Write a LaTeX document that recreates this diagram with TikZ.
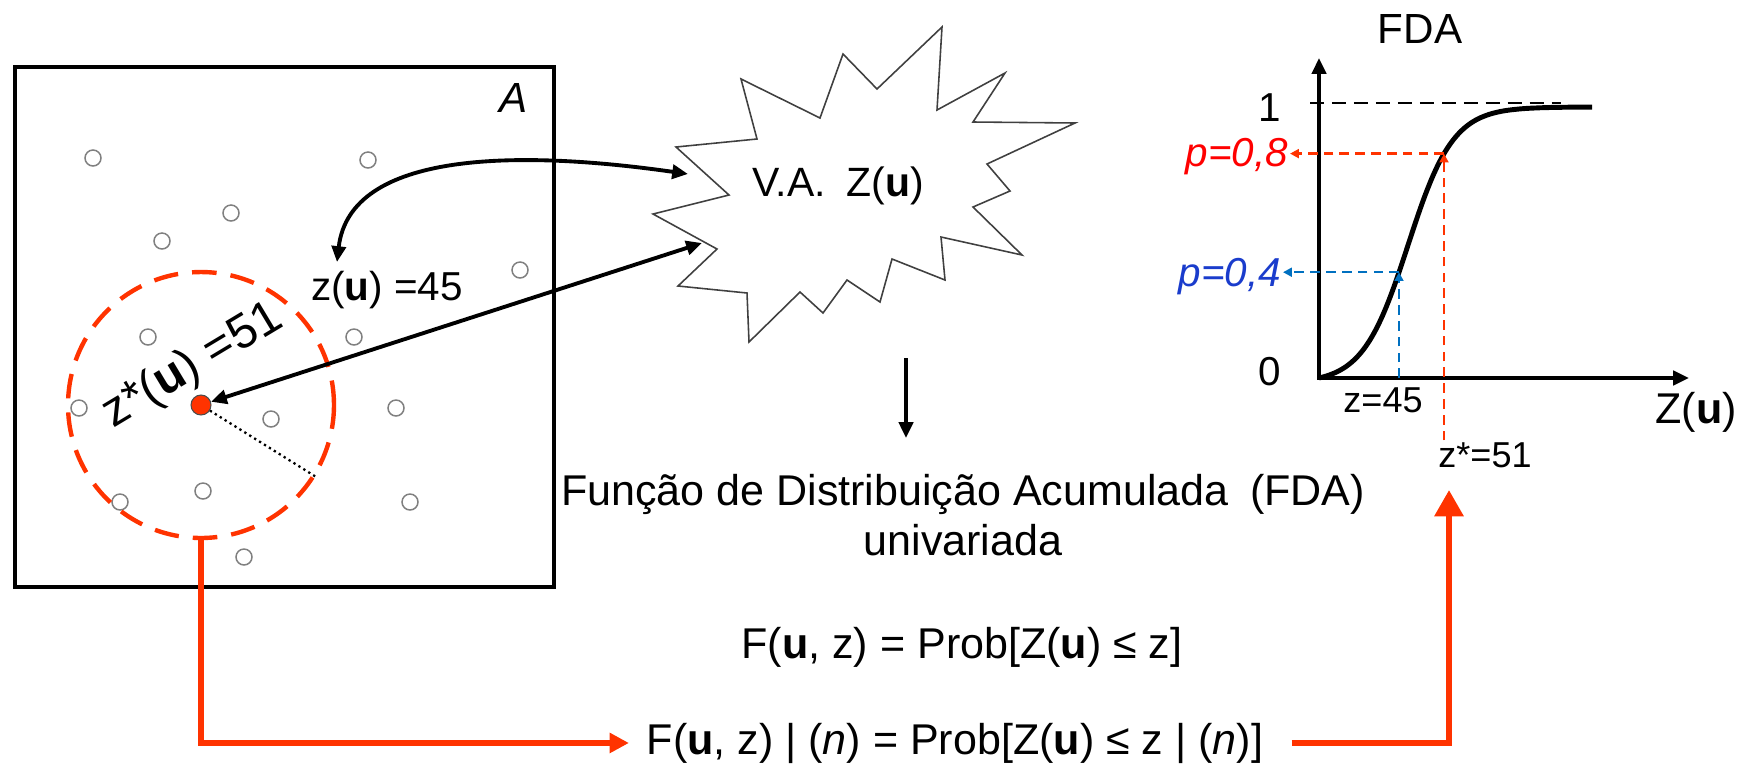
\documentclass[tikz,border=0pt]{standalone}
\usepackage{fontspec}
\setmainfont{Liberation Sans}
\usetikzlibrary{arrows.meta}
\definecolor{orred}{HTML}{FF3300}
\definecolor{dashblue}{HTML}{0070C0}
\definecolor{txtblue}{HTML}{1A3CCC}

\begin{document}
\begin{tikzpicture}[x=0.02cm, y=-0.02cm,
    txt/.style={inner sep=2pt, font=\fontsize{24.5}{29}\selectfont},
    lbl/.style={inner sep=1pt, font=\fontsize{23}{27}\selectfont},
    small/.style={inner sep=1pt, font=\fontsize{20.5}{24}\selectfont},
    sample/.style={circle, draw=black!50, line width=0.85pt, minimum size=0.32cm, inner sep=0pt},
    arrow/.style={{Triangle[length=9pt,width=8pt]}-{Triangle[length=9pt,width=8pt]}, line width=2.2pt},
    redline/.style={orred, line width=3.4pt},
    guide/.style={line width=1.3pt, dash pattern=on 5.5pt off 3.5pt, -{Triangle[length=5pt,width=5pt]}},
    axis/.style={line width=2.8pt, {Triangle[length=9pt,width=8pt]}-{Triangle[length=9pt,width=8pt]}}
]
    \useasboundingbox (0,0) rectangle (1750,765);

    % Area A with samples
    \node[draw, line width=2.3pt, minimum width=10.78cm, minimum height=10.4cm] (area) at (284.5,327) {};
    \node[txt, font=\fontsize{24}{28}\selectfont\itshape] (alabel) at (514,98) {A};
    \foreach \px/\py [count=\i] in {93/158, 368/160, 231/213, 162/241, 520/270, 148/337, 354/337,
        79/408, 271/419, 396/408, 120/502, 203/491, 410/502, 244/557}
        \node[sample] (s\i) at (\px,\py) {};

    % Neighbourhood and estimated point
    \node[circle, draw=orred, line width=2.5pt, dash pattern=on 14pt off 8pt,
        minimum size=5.32cm, inner sep=0pt] (nbhd) at (201,405) {};
    \node[circle, fill=orred, draw=black!70, line width=0.6pt, minimum size=0.4cm, inner sep=0pt] (zu) at (201,405) {};
    \draw[line width=1.3pt, dotted] (zu) -- (nbhd.-32);
    \node[txt, rotate=31, font=\fontsize{27.5}{32}\selectfont] (zst) at (193,366) {z*(\textbf{u}) =51};
    \node[txt, font=\fontsize{23}{27}\selectfont] (z45) at (387,290) {z(\textbf{u}) =45};

    % Random variable
    \draw[line width=0.9pt, black!75] (942,27) -- (937,110) -- (1005,73) -- (973,122) -- (1075,123)
        -- (987,164) -- (1010,191) -- (973,207) -- (1022,255) -- (941,237) -- (945,280)
        -- (892,259) -- (880,302) -- (847,280) -- (823,313) -- (800,292) -- (749,342)
        -- (747,293) -- (678,286) -- (717,249) -- (653,214) -- (729,195) -- (676,147)
        -- (757,139) -- (741,79) -- (820,118) -- (843,54) -- (877,89) -- cycle;
    \node[txt, font=\fontsize{23.3}{28}\selectfont] (va) at (838,186) {V.A.\enspace Z(\textbf{u})};
    \coordinate (vaL) at (688,174);
    \coordinate (vaB) at (702,243);
    \coordinate (c45) at (337,262);

    % Arrows
    \draw[arrow] (c45) .. controls (350,150) and (520,150) .. (vaL);
    \draw[arrow] (vaB) -- (zu);
    \coordinate (dnA) at (906,358);
    \coordinate (dnB) at (906,438);
    \draw[line width=2.2pt, -{Triangle[length=9pt,width=8pt]}] (dnA) -- (dnB);

    % Texts
    \node[txt, anchor=base] (fda) at (963,505) {Função de Distribuição Acumulada\enspace(FDA)};
    \node[txt, anchor=base] (univ) at (963,555) {univariada};
    \node[txt, anchor=base] (fuz) at (962,658) {F(\textbf{u}, z) = Prob[Z(\textbf{u}) ≤ z]};
    \node[txt, anchor=base] (fcond) at (955,754) {F(\textbf{u}, z) | (\textit{n}) = Prob[Z(\textbf{u}) ≤ z | (\textit{n})]};

    % Chart
    \coordinate (o) at (1319,378);
    \coordinate (ytop) at (1319,58);
    \coordinate (xend) at (1689,378);
    \draw[axis] (ytop) -- (o) -- (xend);
    \node[lbl, font=\fontsize{24}{28}\selectfont] (fdat) at (1420,29) {FDA};
    \node[lbl] (one) at (1270,108) {1};
    \node[lbl] (zero) at (1270,372) {0};
    \node[txt] (zax) at (1696,412) {Z(\textbf{u})};
    \node[small] (z45b) at (1383,400) {z=45};
    \node[small] (zs51) at (1485,455) {z*=51};
    \coordinate (c1) at (1310,103);
    \draw[line width=1.6pt, dash pattern=on 8pt off 4.5pt] (c1) -- ++(251,0);
    \draw[line width=2.8pt] plot[domain=1319:1592, samples=70, smooth]
        (\x, {378-276.3*(1/(1+exp(-(\x-1408)/22.6))-0.019)});
    \coordinate (p8) at (1444,153.6);
    \coordinate (p4) at (1399,272.2);
    \node[lbl, anchor=east, text=red, font=\fontsize{23}{27}\selectfont\itshape] (p8lbl) at (1290,157) {p=0,8};
    \node[lbl, anchor=east, text=txtblue, font=\fontsize{23}{27}\selectfont\itshape] (p4lbl) at (1283,277) {p=0,4};
    \draw[guide, orred] (p8) -- (p8 -| p8lbl.east);
    \draw[guide, orred] (p8 |- zs51.north) -- (p8);
    \draw[guide, dashblue] (p4) -- (p4 -| p4lbl.east);
    \draw[guide, dashblue] (p4 |- o) -- (p4);

    % Conditioning path
    \coordinate (zsin) at (1449,490);
    \draw[redline, -{Triangle[length=11pt,width=11pt]}, shorten >=8pt] (nbhd.south) |- (fcond.west);
    \draw[redline, -{Triangle[length=15pt,width=16pt]}, shorten <=14pt] (fcond.east) -| (zsin);

\end{tikzpicture}
\end{document}
